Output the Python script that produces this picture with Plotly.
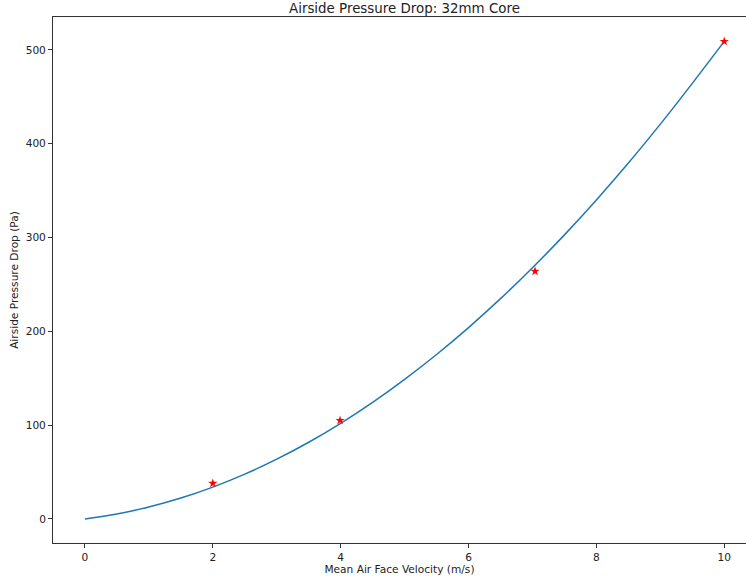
import plotly.graph_objects as go

# Measured data points (red stars)
meas_velocity = [2.0, 3.99, 7.04, 10.0]
meas_dp = [38, 105, 264, 509]

# Fitted curve
curve_velocity = [0, 0.5, 1, 1.5, 2, 2.5, 3, 3.5, 4, 4.5, 5, 5.5, 6, 6.5, 7, 7.5, 8, 8.5, 9, 9.5, 10]
curve_dp = [0, 5.3, 12.8, 22.3, 34, 47.8, 63.8, 81.8, 102, 124.3, 148.8, 175.3, 204, 234.8,
            267.8, 302.8, 340, 379.3, 420.8, 464.3, 509]

x_ticks = [0, 2, 4, 6, 8, 10]
y_ticks = [0, 100, 200, 300, 400, 500]

FONT = "DejaVu Sans"
FS = 10.6

fig = go.Figure()
fig.add_trace(go.Scatter(x=curve_velocity, y=curve_dp, mode="lines",
                         line=dict(color="#1f77b4", width=1.5, shape="spline"),
                         showlegend=False, hoverinfo="skip"))
fig.add_trace(go.Scatter(x=meas_velocity, y=meas_dp, mode="markers",
                         marker=dict(symbol="star", color="red", size=7,
                                     line=dict(width=0)),
                         showlegend=False))

fig.update_layout(
    width=746, height=582,
    margin=dict(l=53, r=0, t=17, b=39, pad=0),
    paper_bgcolor="white", plot_bgcolor="white",
    font=dict(family=FONT, size=FS, color="#222222"),
    xaxis=dict(range=[-0.5, 10.34], tickvals=x_ticks, showgrid=False, zeroline=False,
               showline=True, linecolor="#333333", linewidth=1, mirror=True,
               ticks="outside", ticklen=4, tickcolor="#333333",
               tickfont=dict(size=FS),
               title=dict(text="Mean Air Face Velocity (m/s)", standoff=3,
                          font=dict(size=FS))),
    yaxis=dict(range=[-25.6, 535], tickvals=y_ticks, showgrid=False, zeroline=False,
               showline=True, linecolor="#333333", linewidth=1, mirror=False,
               ticks="outside", ticklen=4, tickcolor="#333333",
               tickfont=dict(size=FS),
               title=dict(text="Airside Pressure Drop (Pa)", standoff=4,
                          font=dict(size=FS))),
    annotations=[dict(text="Airside Pressure Drop: 32mm Core", xref="x", yref="paper",
                      x=5.0, y=1, xanchor="center", yanchor="bottom", yshift=-1,
                      showarrow=False, font=dict(size=13.4, family=FONT))],
)

fig.write_html("out.html", config={"displayModeBar": False},
               post_script="document.body.style.margin='0';"
                           "document.documentElement.style.overflow='hidden';")
